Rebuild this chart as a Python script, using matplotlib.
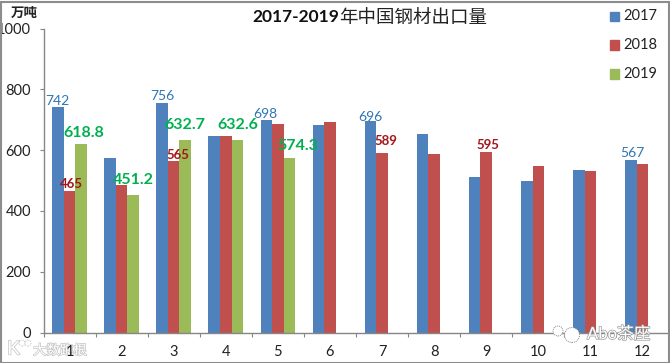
import matplotlib
matplotlib.use("Agg")
import matplotlib.pyplot as plt
import matplotlib.patheffects as pe
import numpy as np
from matplotlib.patches import Rectangle, Circle

months = ["1", "2", "3", "4", "5", "6", "7", "8", "9", "10", "11", "12"]
y2017 = [742, 575, 756, 648, 698, 682, 696, 652, 513, 498, 535, 567]
y2018 = [465, 485, 565, 646, 687, 693, 589, 588, 595, 549, 530, 555]
y2019 = [618.8, 451.2, 632.7, 632.6, 574.3]
yticks = [0, 200, 400, 600, 800, 1000]

W, H = 670, 363
BLUE, RED, GREEN = "#4F81BD", "#C0504D", "#9BBB59"
C17, C18, C19 = "#2E75B6", "#A5151A", "#00B050"
TXT = "#222222"

plt.rcParams["font.family"] = ["Lato", "Noto Sans CJK SC", "DejaVu Sans"]

fig = plt.figure(figsize=(W / 100, H / 100), dpi=100)
ax = fig.add_axes([43.5 / W, 1 - 332.5 / H, 625 / W, 304 / H])
ax.patch.set_alpha(0)
ax.set_xlim(0, 12)
ax.set_ylim(0, 1000)

x = np.arange(12) + 0.5
bw = 0.222
ax.bar(x - bw, y2017, bw, color=BLUE, label="2017", zorder=2)
ax.bar(x, y2018, bw, color=RED, label="2018", zorder=2)
ax.bar(x[:len(y2019)] + bw, y2019, bw, color=GREEN, label="2019", zorder=2)

for s in ["top", "right"]:
    ax.spines[s].set_visible(False)
for s in ["left", "bottom"]:
    ax.spines[s].set_color("#868686")
    ax.spines[s].set_linewidth(1)
ax.set_yticks(yticks)
ax.tick_params(axis="y", length=3, color="#868686", labelsize=10.5, pad=6, labelcolor=TXT)
ax.set_xticks(np.arange(13))
ax.set_xticklabels([])
ax.tick_params(axis="x", length=3, color="#868686")
for i, m in enumerate(months):
    ax.text(x[i], -64, m, ha="center", va="center", fontsize=10.5, color=TXT)


def lab(i, off, val, dx, dy, color, size, bold=False):
    # labels were dragged by hand in the source, so each has its own pixel offset
    ax.annotate(f"{val}", (x[i] + off, val), xytext=(dx, dy), textcoords="offset pixels",
                ha="center", va="center", fontsize=size, color=color,
                fontweight="bold" if bold else "normal", zorder=4)


lab(0, -bw, y2017[0], -1, 6, C17, 10)
lab(2, -bw, y2017[2], 0, 7, C17, 10)
lab(4, -bw, y2017[4], -1, 6, C17, 10)
lab(6, -bw, y2017[6], 0, 4, C17, 10)
lab(11, -bw, y2017[11], 1, 7, C17, 10)
lab(0, 0, y2018[0], 2, 7, C18, 9.5, True)
lab(2, 0, y2018[2], 4, 6, C18, 9.5, True)
lab(6, 0, y2018[6], 4, 12, C18, 9.5, True)
lab(8, 0, y2018[8], 2, 7, C18, 9.5, True)
lab(0, bw, y2019[0], 3, 11, C19, 11.5, True)
lab(1, bw, y2019[1], 0, 15, C19, 11.5, True)
lab(2, bw, y2019[2], 0, 15, C19, 11.5, True)
lab(3, bw, y2019[3], 0, 15, C19, 11.5, True)
lab(4, bw, y2019[4], 8, 12, C19, 11.5, True)

# title: bold latin part, lighter chinese part
fig.text(339 / W, 1 - 17 / H, "2017-2019", ha="right", va="center", fontsize=12.5, fontweight="bold", color="#111111")
fig.text(339 / W, 1 - 17 / H, "年中国钢材出口量", ha="left", va="center", fontsize=13.3, color=TXT)
fig.text(24 / W, 1 - 13 / H, "万吨", ha="center", va="center", fontsize=9.7, fontweight="bold", color=TXT)

# legend
for yy, c, t in [(16.5, BLUE, "2017"), (45, RED, "2018"), (74, GREEN, "2019")]:
    fig.add_artist(Rectangle((610 / W, 1 - (yy + 4.5) / H), 9 / W, 9 / H, color=c, transform=fig.transFigure))
    fig.text(623 / W, 1 - yy / H, t, ha="left", va="center", fontsize=10.5, color=TXT)

# image border
fig.add_artist(Rectangle((0.5 / W, 0.5 / H), (W - 2) / W, (H - 2) / H, fill=False, ec="#8C8C8C", lw=1.5,
                         transform=fig.transFigure))

# watermarks: the left one sits under the tick labels, the right one over the bars
soft = [pe.withStroke(linewidth=1, foreground="#C4C4C4")]
halo = [pe.withStroke(linewidth=1, foreground="#9A9A9A")]
fig.text(33 / W, 1 - 350 / H, "大数跑根", ha="left", va="center", fontsize=9.7, color="white",
         path_effects=soft, zorder=-1)
fig.text(7 / W, 1 - 349 / H, "K", ha="left", va="center", fontsize=14, color="white",
         path_effects=soft, zorder=-1)
fig.text(587 / W, 1 - 334 / H, "Abo茶座", ha="left", va="center", fontsize=12, color="white",
         path_effects=halo, zorder=6)
for cx, cy, r, ec, zo in [(572, 335, 7.5, "#8A8A8A", 5), (558, 331, 5, "#8A8A8A", 5),
                          (22, 343, 3, "#C4C4C4", -1), (28, 343, 3, "#C4C4C4", -1)]:
    fig.add_artist(Circle((cx, H - cy), r, fc="white", ec=ec, lw=0.7, ls=(0, (1, 1)),
                          transform=None, zorder=zo))

fig.savefig("out.png", dpi=100)
